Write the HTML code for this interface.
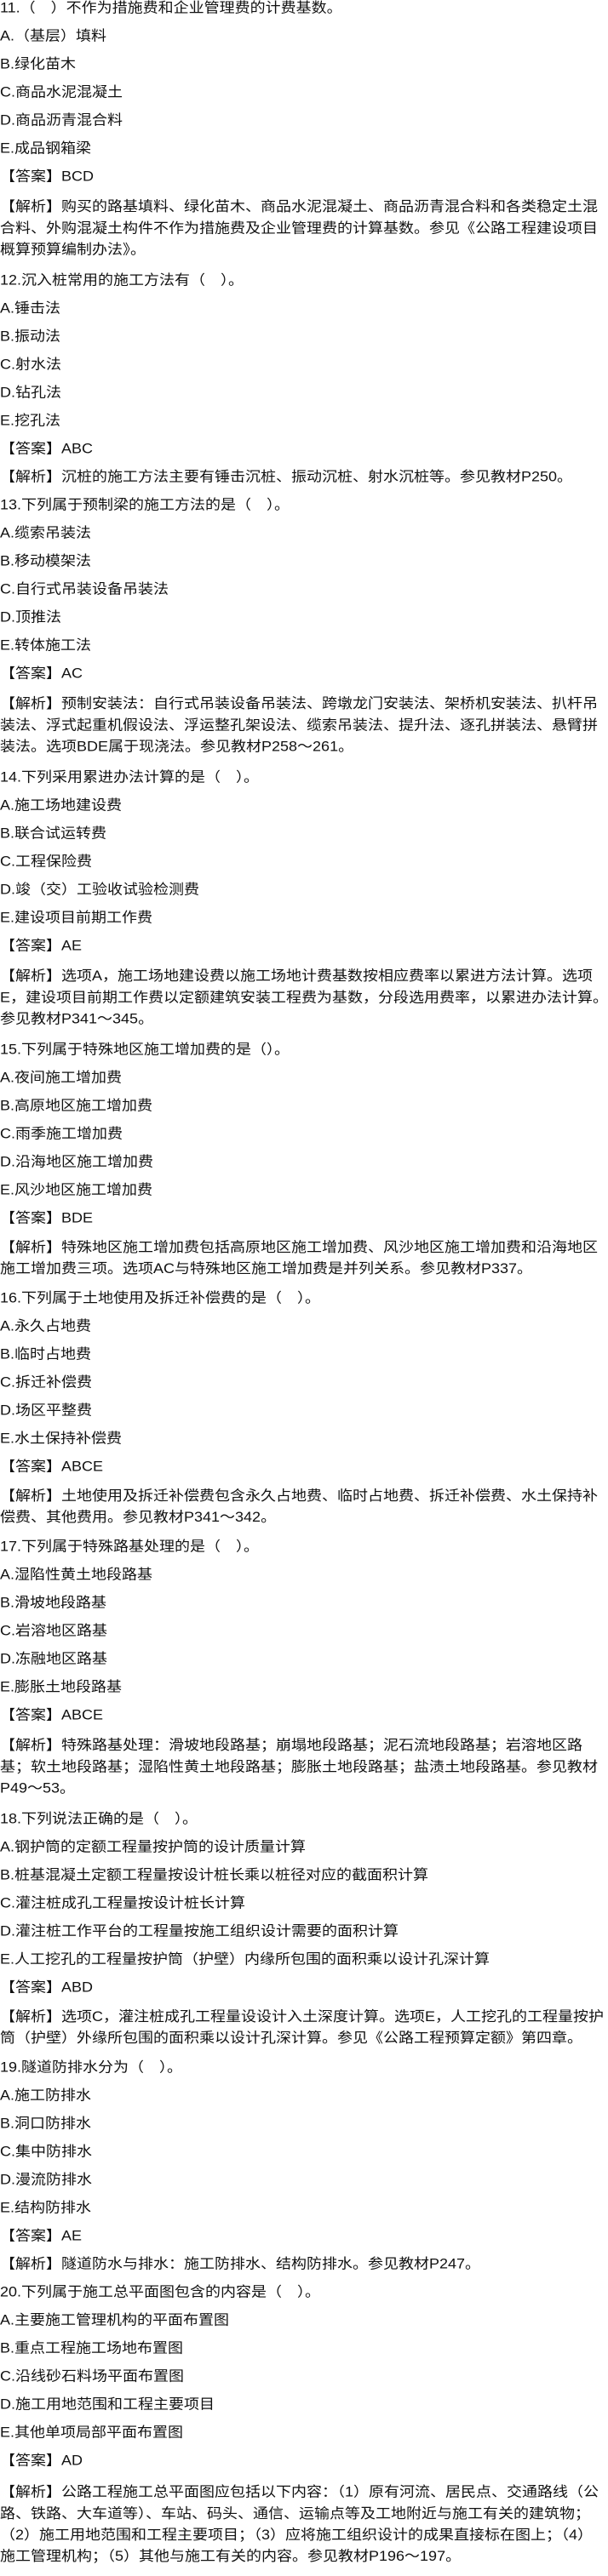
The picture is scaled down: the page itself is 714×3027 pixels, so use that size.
<!DOCTYPE html>
<html lang="zh">
<head>
<meta charset="utf-8">
<style>
html,body{margin:0;padding:0;background:#fff;}
body{width:714px;height:3017px;overflow:hidden;position:relative;}
#c{position:absolute;left:0;top:-5px;width:714px;}
p{margin:0 0 5px 0;line-height:28px;font-size:18px;color:#111;white-space:nowrap;
font-family:"Liberation Sans","Noto Sans CJK SC",sans-serif;transform:scaleY(0.9);transform-origin:0 50%;}
</style>
</head>
<body>
<div id="c">
<p>11.（　）不作为措施费和企业管理费的计费基数。</p>
<p>A.（基层）填料</p>
<p>B.绿化苗木</p>
<p>C.商品水泥混凝土</p>
<p>D.商品沥青混合料</p>
<p>E.成品钢箱梁</p>
<p>【答案】BCD</p>
<p>【解析】购买的路基填料、绿化苗木、商品水泥混凝土、商品沥青混合料和各类稳定土混<br>合料、外购混凝土构件不作为措施费及企业管理费的计算基数。参见《公路工程建设项目<br>概算预算编制办法》。</p>
<p>12.沉入桩常用的施工方法有（　）。</p>
<p>A.锤击法</p>
<p>B.振动法</p>
<p>C.射水法</p>
<p>D.钻孔法</p>
<p>E.挖孔法</p>
<p>【答案】ABC</p>
<p>【解析】沉桩的施工方法主要有锤击沉桩、振动沉桩、射水沉桩等。参见教材P250。</p>
<p>13.下列属于预制梁的施工方法的是（　）。</p>
<p>A.缆索吊装法</p>
<p>B.移动模架法</p>
<p>C.自行式吊装设备吊装法</p>
<p>D.顶推法</p>
<p>E.转体施工法</p>
<p>【答案】AC</p>
<p>【解析】预制安装法：自行式吊装设备吊装法、跨墩龙门安装法、架桥机安装法、扒杆吊<br>装法、浮式起重机假设法、浮运整孔架设法、缆索吊装法、提升法、逐孔拼装法、悬臂拼<br>装法。选项BDE属于现浇法。参见教材P258～261。</p>
<p>14.下列采用累进办法计算的是（　）。</p>
<p>A.施工场地建设费</p>
<p>B.联合试运转费</p>
<p>C.工程保险费</p>
<p>D.竣（交）工验收试验检测费</p>
<p>E.建设项目前期工作费</p>
<p>【答案】AE</p>
<p>【解析】选项A，施工场地建设费以施工场地计费基数按相应费率以累进方法计算。选项<br>E，建设项目前期工作费以定额建筑安装工程费为基数，分段选用费率，以累进办法计算。<br>参见教材P341～345。</p>
<p>15.下列属于特殊地区施工增加费的是（）。</p>
<p>A.夜间施工增加费</p>
<p>B.高原地区施工增加费</p>
<p>C.雨季施工增加费</p>
<p>D.沿海地区施工增加费</p>
<p>E.风沙地区施工增加费</p>
<p>【答案】BDE</p>
<p>【解析】特殊地区施工增加费包括高原地区施工增加费、风沙地区施工增加费和沿海地区<br>施工增加费三项。选项AC与特殊地区施工增加费是并列关系。参见教材P337。</p>
<p>16.下列属于土地使用及拆迁补偿费的是（　）。</p>
<p>A.永久占地费</p>
<p>B.临时占地费</p>
<p>C.拆迁补偿费</p>
<p>D.场区平整费</p>
<p>E.水土保持补偿费</p>
<p>【答案】ABCE</p>
<p>【解析】土地使用及拆迁补偿费包含永久占地费、临时占地费、拆迁补偿费、水土保持补<br>偿费、其他费用。参见教材P341～342。</p>
<p>17.下列属于特殊路基处理的是（　）。</p>
<p>A.湿陷性黄土地段路基</p>
<p>B.滑坡地段路基</p>
<p>C.岩溶地区路基</p>
<p>D.冻融地区路基</p>
<p>E.膨胀土地段路基</p>
<p>【答案】ABCE</p>
<p>【解析】特殊路基处理：滑坡地段路基；崩塌地段路基；泥石流地段路基；岩溶地区路<br>基；软土地段路基；湿陷性黄土地段路基；膨胀土地段路基；盐渍土地段路基。参见教材<br>P49～53。</p>
<p>18.下列说法正确的是（　）。</p>
<p>A.钢护筒的定额工程量按护筒的设计质量计算</p>
<p>B.桩基混凝土定额工程量按设计桩长乘以桩径对应的截面积计算</p>
<p>C.灌注桩成孔工程量按设计桩长计算</p>
<p>D.灌注桩工作平台的工程量按施工组织设计需要的面积计算</p>
<p>E.人工挖孔的工程量按护筒（护壁）内缘所包围的面积乘以设计孔深计算</p>
<p>【答案】ABD</p>
<p>【解析】选项C，灌注桩成孔工程量设设计入土深度计算。选项E，人工挖孔的工程量按护<br>筒（护壁）外缘所包围的面积乘以设计孔深计算。参见《公路工程预算定额》第四章。</p>
<p>19.隧道防排水分为（　）。</p>
<p>A.施工防排水</p>
<p>B.洞口防排水</p>
<p>C.集中防排水</p>
<p>D.漫流防排水</p>
<p>E.结构防排水</p>
<p>【答案】AE</p>
<p>【解析】隧道防水与排水：施工防排水、结构防排水。参见教材P247。</p>
<p>20.下列属于施工总平面图包含的内容是（　）。</p>
<p>A.主要施工管理机构的平面布置图</p>
<p>B.重点工程施工场地布置图</p>
<p>C.沿线砂石料场平面布置图</p>
<p>D.施工用地范围和工程主要项目</p>
<p>E.其他单项局部平面布置图</p>
<p>【答案】AD</p>
<p>【解析】公路工程施工总平面图应包括以下内容：（1）原有河流、居民点、交通路线（公<br>路、铁路、大车道等）、车站、码头、通信、运输点等及工地附近与施工有关的建筑物；<br>（2）施工用地范围和工程主要项目；（3）应将施工组织设计的成果直接标在图上；（4）<br>施工管理机构；（5）其他与施工有关的内容。参见教材P196～197。</p>
</div>
</body>
</html>
